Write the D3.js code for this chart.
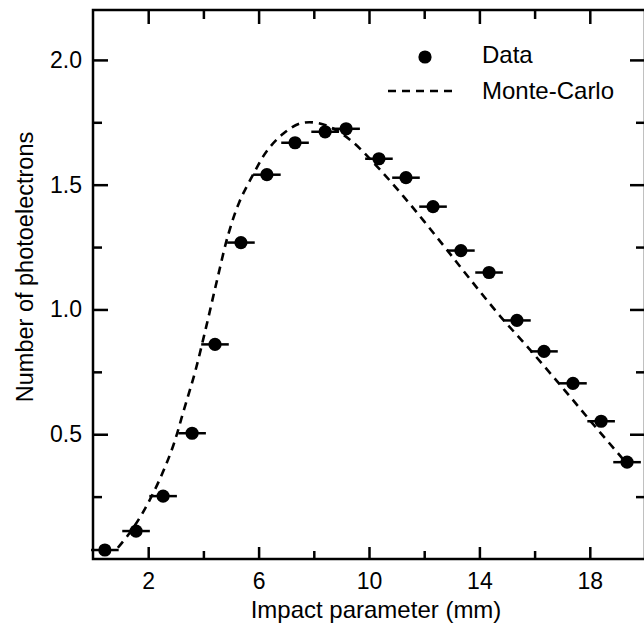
<!DOCTYPE html>
<html>
<head>
<meta charset="utf-8">
<script src="https://cdn.jsdelivr.net/npm/d3@7"></script>
<style>
  body { margin: 0; background: #fff; }
  svg text { font-family: "Liberation Sans", Arial, sans-serif; fill: #000; }
</style>
</head>
<body>
<div id="chart"></div>
<script>
// measured points (impact parameter in mm, photoelectrons)
var dataX = [0.43, 1.56, 2.54, 3.59, 4.42, 5.36, 6.30, 7.32, 8.41, 9.17,
             10.36, 11.34, 12.32, 13.33, 14.35, 15.36, 16.34, 17.39, 18.41, 19.35]
var dataY = [0.036, 0.112, 0.252, 0.504, 0.86, 1.268, 1.54, 1.668, 1.712, 1.724,
             1.604, 1.528, 1.412, 1.236, 1.148, 0.956, 0.832, 0.704, 0.552, 0.388]
var dataXErr = 0.5

// monte-carlo curve
var mcX = [0.9, 1.3, 1.8, 2.4, 2.9, 3.3, 3.7, 4.1, 4.5, 4.9, 5.3, 5.8, 6.3, 6.9, 7.5,
           8.1, 8.7, 9.4, 10.4, 11.5, 12.6, 13.6, 14.7, 15.9, 17.1, 18.2, 19.4]
var mcY = [0.045, 0.1, 0.185, 0.315, 0.452, 0.6, 0.75, 0.93, 1.12, 1.3, 1.43, 1.54, 1.635,
           1.705, 1.745, 1.748, 1.725, 1.672, 1.56, 1.42, 1.27, 1.13, 0.98, 0.83, 0.675, 0.53, 0.375]

var xMajor = [2, 6, 10, 14, 18]
var xMinor = [4, 8, 12, 16]
var yMajor = [0.5, 1.0, 1.5, 2.0]
var yMinor = [0.25, 0.75, 1.25, 1.75]

var legendLabels = ['Data', 'Monte-Carlo']

var W = 644, H = 623
var svg = d3.select('#chart').append('svg').attr('width', W).attr('height', H)

var x = d3.scaleLinear().domain([0, 20]).range([93, 645])
var y = d3.scaleLinear().domain([0, 2.2]).range([559, 10])

var sw = 2.5

// frame
svg.append('rect')
  .attr('x', x(0)).attr('y', y(2.2))
  .attr('width', x(20) - x(0)).attr('height', y(0) - y(2.2))
  .attr('fill', 'none').attr('stroke', '#000').attr('stroke-width', sw)

function ticks(axis, pos, vals, size) {
  var g = svg.append('g').attr('transform', pos)
    .call(axis.tickValues(vals).tickSize(size).tickFormat(''))
  g.select('.domain').remove()
  g.selectAll('line').attr('stroke-width', sw)
  return g
}

// inward ticks on all four sides
ticks(d3.axisTop(x), 'translate(0,' + y(0) + ')', xMajor, 12)
ticks(d3.axisTop(x), 'translate(0,' + y(0) + ')', xMinor, 8)
ticks(d3.axisBottom(x), 'translate(0,' + y(2.2) + ')', xMajor, 14)
ticks(d3.axisBottom(x), 'translate(0,' + y(2.2) + ')', xMinor, 9)
ticks(d3.axisRight(y), 'translate(' + x(0) + ',0)', yMajor, 15)
ticks(d3.axisRight(y), 'translate(' + x(0) + ',0)', yMinor, 9)
ticks(d3.axisLeft(y), 'translate(' + x(20) + ',0)', yMajor, 15)
ticks(d3.axisLeft(y), 'translate(' + x(20) + ',0)', yMinor, 9)

// tick labels
var gx = svg.append('g').attr('transform', 'translate(0,' + y(0) + ')')
  .call(d3.axisBottom(x).tickValues(xMajor).tickSize(0).tickPadding(14))
gx.select('.domain').remove()
gx.selectAll('text').style('font-size', '23px')

var gy = svg.append('g').attr('transform', 'translate(' + x(0) + ',0)')
  .call(d3.axisLeft(y).tickValues(yMajor).tickSize(0).tickPadding(11).tickFormat(d3.format('.1f')))
gy.select('.domain').remove()
gy.selectAll('text').style('font-size', '23px')

// axis titles
svg.append('text').attr('x', 376).attr('y', 618).attr('text-anchor', 'middle')
  .style('font-size', '24px').text('Impact parameter (mm)')
svg.append('text').attr('transform', 'translate(33,267) rotate(-90)').attr('text-anchor', 'middle')
  .style('font-size', '23.5px').text('Number of photoelectrons')

// monte-carlo dashed line
var mc = mcX.map(function (d, i) { return [d, mcY[i]] })
var line = d3.line().x(function (d) { return x(d[0]) }).y(function (d) { return y(d[1]) })
  .curve(d3.curveCatmullRom)
svg.append('path').datum(mc).attr('d', line)
  .attr('fill', 'none').attr('stroke', '#000').attr('stroke-width', 2.6)
  .attr('stroke-dasharray', '8,6')

// data with horizontal error bars
var pts = dataX.map(function (d, i) { return { x: d, y: dataY[i] } })
svg.append('g').selectAll('line').data(pts).enter().append('line')
  .attr('x1', function (d) { return x(d.x - dataXErr) })
  .attr('x2', function (d) { return x(d.x + dataXErr) })
  .attr('y1', function (d) { return y(d.y) })
  .attr('y2', function (d) { return y(d.y) })
  .attr('stroke', '#000').attr('stroke-width', 2.5)
svg.append('g').selectAll('circle').data(pts).enter().append('circle')
  .attr('cx', function (d) { return x(d.x) })
  .attr('cy', function (d) { return y(d.y) })
  .attr('r', 6.6).attr('fill', '#000')

// legend
svg.append('circle').attr('cx', 425).attr('cy', 57).attr('r', 6.6).attr('fill', '#000')
svg.append('line').attr('x1', 388).attr('x2', 455).attr('y1', 91).attr('y2', 91)
  .attr('stroke', '#000').attr('stroke-width', 2.6).attr('stroke-dasharray', '8,6')
svg.append('text').attr('x', 482).attr('y', 63).style('font-size', '24px').text(legendLabels[0])
svg.append('text').attr('x', 482).attr('y', 99).style('font-size', '24px').text(legendLabels[1])
</script>
</body>
</html>
